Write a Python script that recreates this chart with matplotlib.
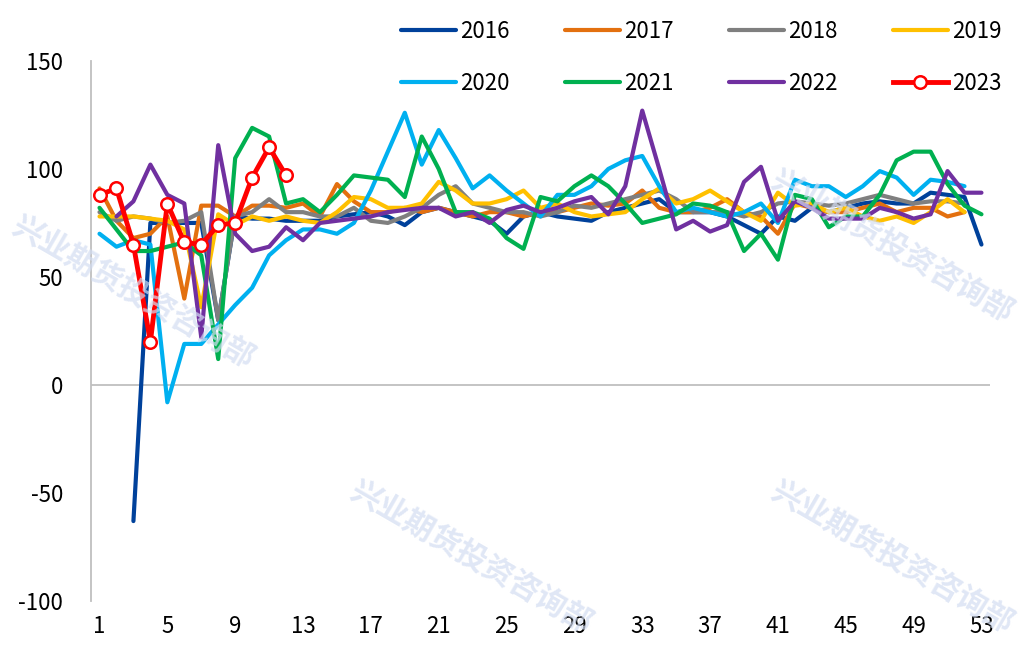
import numpy as np
import matplotlib
matplotlib.use("Agg")
import matplotlib.pyplot as plt

plt.rcParams['font.family'] = ['Noto Sans CJK SC', 'DejaVu Sans']
plt.rcParams['axes.unicode_minus'] = False

nan = np.nan
weeks = np.arange(1, 54)

y2016 = [nan, nan, -63, 75, 75, 75, 75, 30, 78, 77, 77, 76, 76, 76, 78, 79, 80, 78, 74, 80,
         82, 80, 78, 76, 70, 78, 80, 78, 77, 76, 80, 82, 84, 86, 80, 80, 80, 78, 74, 70,
         78, 76, 82, 80, 82, 84, 85, 84, 84, 89, 88, 87, 65]
y2017 = [91, 76, 68, 70, 78, 40, 83, 83, 78, 83, 83, 82, 84, 78, 93, 85, 80, 80, 82, 80,
         82, 80, 78, 80, 80, 78, 80, 80, 82, 84, 83, 84, 90, 82, 80, 80, 82, 86, 80, 78,
         70, 84, 82, 80, 80, 82, 84, 80, 82, 82, 78, 80, nan]
y2018 = [80, 76, 78, 77, 75, 76, 80, 30, 78, 80, 86, 80, 80, 78, 78, 82, 76, 75, 78, 82,
         88, 92, 84, 82, 80, 80, 78, 80, 83, 82, 84, 86, 88, 90, 86, 80, 80, 80, 78, 80,
         84, 85, 84, 83, 84, 86, 88, 86, 84, 85, 85, 84, nan]
y2019 = [78, 78, 78, 77, 76, 72, 36, 79, 74, 78, 76, 78, 76, 75, 80, 87, 86, 82, 82, 84,
         94, 90, 84, 84, 86, 90, 82, 84, 80, 78, 79, 80, 86, 91, 84, 86, 90, 85, 80, 76,
         89, 83, 84, 80, 82, 78, 76, 78, 75, 80, 86, 80, nan]
y2020 = [70, 64, 67, 65, -8, 19, 19, 28, 37, 45, 60, 67, 72, 72, 70, 75, 90, 108, 126, 102,
         118, 105, 91, 97, 90, 84, 78, 88, 88, 92, 100, 104, 106, 92, 80, 82, 80, 78, 80, 84,
         75, 95, 92, 92, 87, 92, 99, 96, 88, 95, 94, 92, nan]
y2021 = [82, 72, 62, 62, 64, 66, 60, 12, 105, 119, 115, 84, 86, 80, 88, 97, 96, 95, 87, 115,
         100, 80, 80, 77, 68, 63, 87, 85, 92, 97, 92, 84, 75, 77, 79, 84, 83, 80, 62, 70,
         58, 88, 86, 73, 78, 78, 88, 104, 108, 108, 93, 83, 79]
y2022 = [nan, 78, 85, 102, 88, 84, 22, 111, 70, 62, 64, 73, 67, 75, 76, 77, 78, 80, 81, 82,
         82, 78, 80, 75, 81, 83, 80, 82, 85, 87, 79, 92, 127, 100, 72, 76, 71, 74, 94, 101,
         76, 85, 82, 77, 77, 77, 82, 80, 77, 79, 99, 89, 89]
y2023 = [88, 91, 65, 20, 84, 66, 65, 74, 75, 96, 110, 97]

series = [("2016", y2016, "#00419B"), ("2017", y2017, "#E3700F"), ("2018", y2018, "#7F7F7F"),
          ("2019", y2019, "#FFC000"), ("2020", y2020, "#00B0F0"), ("2021", y2021, "#00B050"),
          ("2022", y2022, "#7030A0")]

fig = plt.figure(figsize=(10.25, 6.48), dpi=100)
ax = fig.add_axes([0.0888, 0.0725, 0.877, 0.8335])

# watermark
wm = "兴业期货投资咨询部"
for x, y in [(0.46, 0.14), (0.87, 0.14), (0.87, 0.62), (0.13, 0.55)]:
    fig.text(x, y, wm, fontsize=22, color='#D3DDF2', alpha=0.7, rotation=-30,
             ha='center', va='center', fontweight='bold', zorder=0)

handles = {}
for name, vals, col in series:
    handles[name], = ax.plot(weeks, vals, color=col, lw=3, label=name,
                             solid_capstyle='round', solid_joinstyle='round')
handles["2023"], = ax.plot(weeks[:len(y2023)], y2023, color="#FF0000", lw=3.5, marker='o',
                           markersize=9, markerfacecolor='white', markeredgecolor='#FF0000',
                           markeredgewidth=1.8, label="2023")

ax.axhline(0, color='#BFBFBF', lw=1.3, zorder=0)
ax.set_xlim(0.5, 53.5)
ax.set_ylim(-100, 150)
ax.set_xticks(np.arange(1, 54, 4))
ax.set_yticks(np.arange(-100, 151, 50))
for s in ['top', 'right', 'bottom']:
    ax.spines[s].set_visible(False)
ax.spines['left'].set_color('#BFBFBF')
ax.spines['left'].set_linewidth(1.3)
ax.tick_params(axis='y', length=0, labelsize=16, pad=20)
ax.tick_params(axis='x', length=0, labelsize=16, pad=10)
ax.patch.set_alpha(0)

order = ["2016", "2020", "2017", "2021", "2018", "2022", "2019", "2023"]
fig.legend([handles[k] for k in order], order, loc='upper left',
           bbox_to_anchor=(0.372, 1.0), ncol=4, frameon=False, fontsize=16,
           handlelength=2.45, handletextpad=0.2, columnspacing=2.5, labelspacing=1.3,
           numpoints=1)

fig.savefig("out.png", dpi=100)
